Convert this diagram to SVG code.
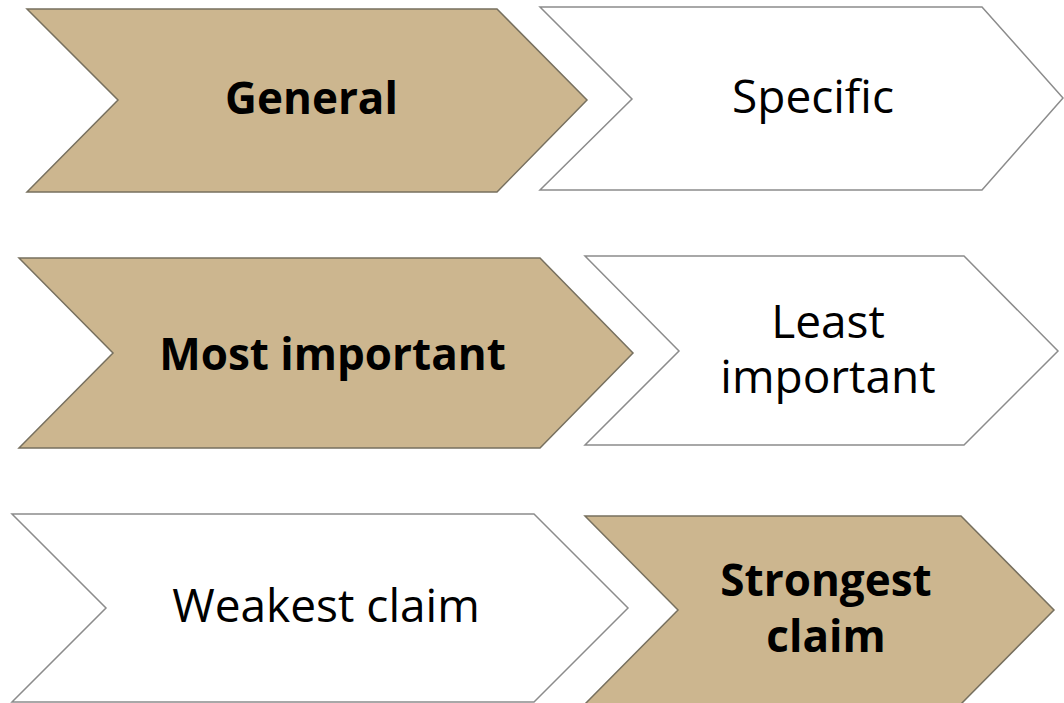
<svg xmlns="http://www.w3.org/2000/svg" width="1064" height="703" viewBox="0 0 1064 703">
<style>
.tan{fill:#CCB68F;stroke:#77705f;stroke-width:1.5;stroke-linejoin:miter}
.wht{fill:#FFFFFF;stroke:#8c8c8c;stroke-width:1.5;stroke-linejoin:miter}
.t{font-family:"Open Sans","Liberation Sans",sans-serif;font-size:46px;fill:#000;text-anchor:middle}
.b{font-weight:bold;font-size:44px}
</style>
<rect width="1064" height="703" fill="#FFFFFF"/>
<g id="general">
<polygon class="tan" points="27,9 497,9 587,100 497,192 27,192 118,100"/>
<text class="t b" x="311.5" y="114">General</text>
</g>
<g id="specific">
<polygon class="wht" points="540,7 982,7 1063,98 982,190 540,190 632,99"/>
<text class="t" x="813" y="113">Specific</text>
</g>
<g id="most-important">
<polygon class="tan" points="19,258 540,258 633,353 540,448 19,448 113,353"/>
<text class="t b" x="332.5" y="370">Most important</text>
</g>
<g id="least-important">
<polygon class="wht" points="585,256 964,256 1058,351 964,445 585,445 679,351"/>
<text class="t" x="828" y="338">Least</text>
<text class="t" x="828" y="393">important</text>
</g>
<g id="weakest-claim">
<polygon class="wht" points="12,514 534,514 628,608 534,702 12,702 106,608"/>
<text class="t" x="326" y="622">Weakest claim</text>
</g>
<g id="strongest-claim">
<polygon class="tan" points="585,516 961,516 1054,610 961,704 585,704 678,610"/>
<text class="t b" x="826" y="596">Strongest</text>
<text class="t b" x="826" y="652">claim</text>
</g>
<g id="connectors"/>
</svg>
